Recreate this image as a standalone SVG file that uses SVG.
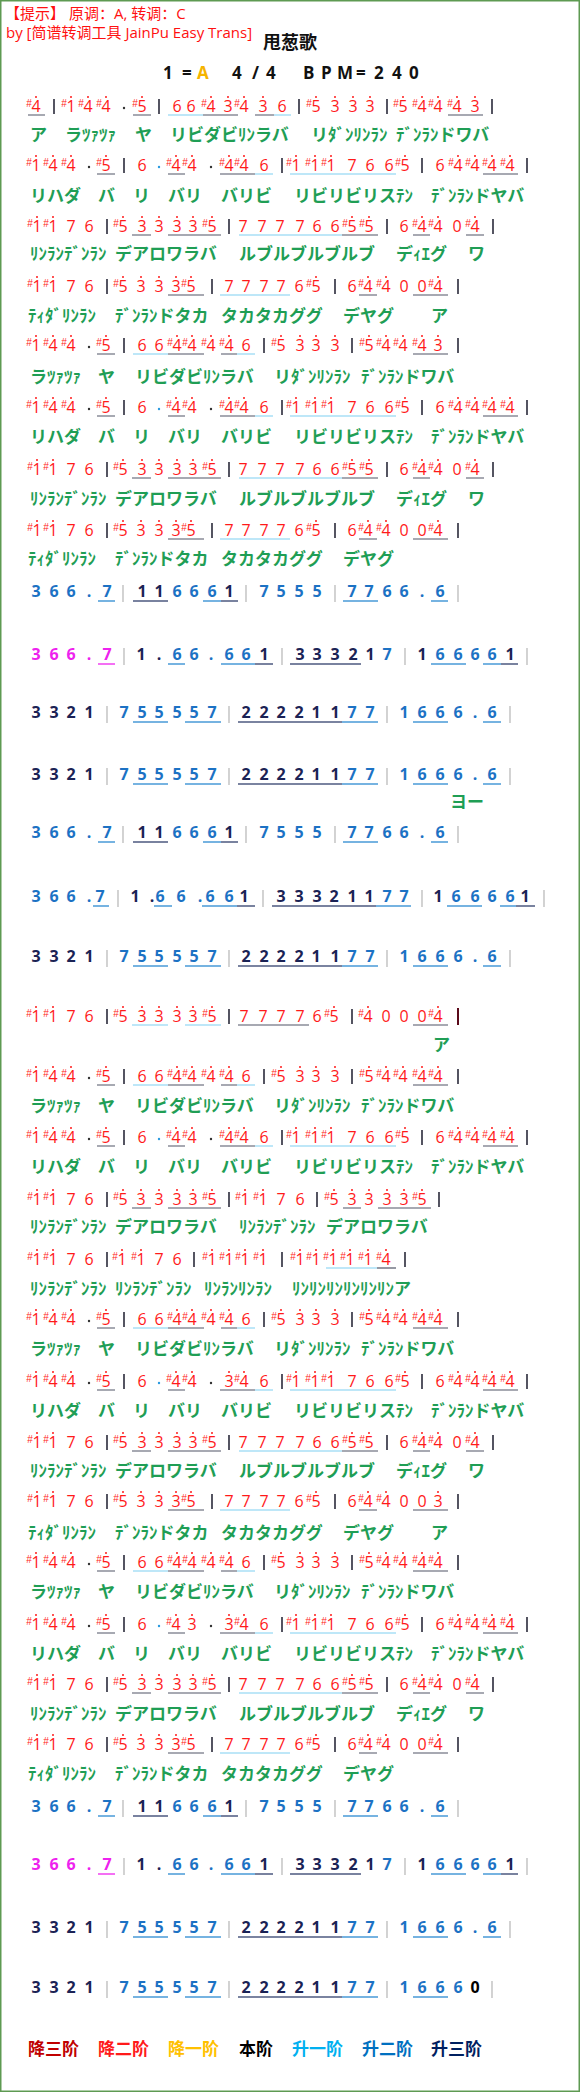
<svg xmlns="http://www.w3.org/2000/svg" width="580" height="2092" viewBox="0 0 580 2092">
<style>
.hd{font-family:"Open Sans","Noto Sans CJK SC",sans-serif;font-size:15px;fill:#ff1010}
.tt{font-family:"Noto Sans CJK SC",sans-serif;font-size:18px;font-weight:bold;fill:#111}
.key{font-family:"Open Sans","Liberation Sans",sans-serif;font-size:17px;font-weight:bold;fill:#111}
.r{font-family:"Open Sans","Liberation Sans",sans-serif;font-size:16px;fill:#ff1a1a;text-anchor:middle}
.s{font-family:"Liberation Sans",sans-serif;font-size:10px;fill:#ff1a1a;text-anchor:middle}
.dt{fill:none;stroke:#ff1a1a;stroke-width:2;stroke-linecap:round}
.ak{fill:none;stroke:#333;stroke-width:2.4;stroke-linecap:round}
.ab{fill:none;stroke:#2a9ae0;stroke-width:2.4;stroke-linecap:round}
.ud{fill:none;stroke:#505566;stroke-width:1.2}
.ub{fill:none;stroke:#7fd0f2;stroke-width:1.2}
.br{fill:none;stroke:#2b2b3b;stroke-width:1.6}
.bm{fill:none;stroke:#5a0a1a;stroke-width:2}
.b{font-family:"Open Sans","Liberation Sans",sans-serif;font-size:16px;font-weight:bold;text-anchor:middle}
.cb{fill:#1c72c4}
.cn{fill:#1b2355}
.cm{fill:#ee22ee}
.ck{fill:#000}
.gb{fill:none;stroke:#c8c8c8;stroke-width:1.6}
.lb{fill:none;stroke:#4a9ad8;stroke-width:1.3}
.ln{fill:none;stroke:#4e5a80;stroke-width:1.3}
.lm{fill:none;stroke:#ee22ee;stroke-width:1.3}
.ly{font-family:"Noto Sans CJK JP",sans-serif;font-size:17px;font-weight:bold;fill:#1f9e55}
.lg{font-family:"Noto Sans CJK SC",sans-serif;font-size:17px;font-weight:bold}
</style>
<defs>
<g id="rA">
<text class="r" x="36 71 88 106 142 177 191 211 228 244 263 282 316 335 353 370 403 422 438 457 475">414456643436533354443</text>
<text class="s" y="-5" x="29 64 81 99 135 204 237 309 396 415 431 450">############</text>
<path class="dt" d="M36-15h0M71-15h0M88-15h0M106-15h0M142-15h0M211-15h0M228-15h0M244-15h0M263-15h0M316-15h0M335-15h0M353-15h0M370-15h0M403-15h0M422-15h0M438-15h0M457-15h0M475-15h0"/>
<path class="ak" d="M124-4h0"/>
<path class="ud" d="M28 3H45M133 3H151M203 3H238M255 3H274M448 3H483"/>
<path class="ub" d="M168 3H203M274 3H291"/>
<path class="br" d="M54-13V2M159-13V2M299-13V2M387-13V2M492-13V2"/>
</g>
<g id="rC">
<text class="r" x="36 53 71 106 142 176 192 229 244 264 296 315 331 352 370 389 405 440 458 475 492 510">1445644446111766564444</text>
<text class="s" y="-5" x="29 46 64 99 169 185 222 237 289 308 324 398 451 468 485 503">################</text>
<path class="dt" d="M36-15h0M53-15h0M71-15h0M106-15h0M176-15h0M192-15h0M229-15h0M244-15h0M296-15h0M315-15h0M331-15h0M405-15h0M458-15h0M475-15h0M492-15h0M510-15h0"/>
<path class="ak" d="M89-4h0M211-4h0"/>
<path class="ab" d="M159-4h0"/>
<path class="ud" d="M97 3H115M168 3H185M220 3H255M483 3H518"/>
<path class="ub" d="M255 3H273M290 3H396"/>
<path class="br" d="M124-13V2M282-13V2M422-13V2M527-13V2"/>
</g>
<g id="rD">
<text class="r" x="36 53 71 106 142 176 192 229 244 264 296 315 331 352 370 389 405 440 458 475 492 510">1445644346111766564444</text>
<text class="s" y="-5" x="29 46 64 99 169 185 237 289 308 324 398 451 468 485 503">###############</text>
<path class="dt" d="M36-15h0M53-15h0M71-15h0M106-15h0M176-15h0M192-15h0M229-15h0M244-15h0M296-15h0M315-15h0M331-15h0M405-15h0M458-15h0M475-15h0M492-15h0M510-15h0"/>
<path class="ak" d="M89-4h0M211-4h0"/>
<path class="ab" d="M159-4h0"/>
<path class="ud" d="M97 3H115M168 3H185M220 3H255M483 3H518"/>
<path class="ub" d="M255 3H273M290 3H396"/>
<path class="br" d="M124-13V2M282-13V2M422-13V2M527-13V2"/>
</g>
<g id="rE">
<text class="r" x="36 53 71 106 142 176 192 229 244 264 296 315 331 352 370 389 405 440 458 475 492 510">1445643346111766564444</text>
<text class="s" y="-5" x="29 46 64 99 169 237 289 308 324 398 451 468 485 503">##############</text>
<path class="dt" d="M36-15h0M53-15h0M71-15h0M106-15h0M176-15h0M192-15h0M229-15h0M244-15h0M296-15h0M315-15h0M331-15h0M405-15h0M458-15h0M475-15h0M492-15h0M510-15h0"/>
<path class="ak" d="M89-4h0M211-4h0"/>
<path class="ab" d="M159-4h0"/>
<path class="ud" d="M97 3H115M168 3H185M220 3H255M483 3H518"/>
<path class="ub" d="M255 3H273M290 3H396"/>
<path class="br" d="M124-13V2M282-13V2M422-13V2M527-13V2"/>
</g>
<g id="rF">
<text class="r" x="37 53 71 89 123 142 159 177 193 212 243 262 280 300 317 335 352 369 404 422 438 457 475">11765333357777665564404</text>
<text class="s" y="-5" x="30 46 116 205 345 362 415 431 468">#########</text>
<path class="dt" d="M37-15h0M53-15h0M123-15h0M142-15h0M159-15h0M177-15h0M193-15h0M212-15h0M352-15h0M369-15h0M422-15h0M438-15h0M475-15h0"/>
<path class="ud" d="M132 3H151M168 3H221M342 3H378M413 3H430M466 3H484"/>
<path class="ub" d="M239 3H342"/>
<path class="br" d="M107-13V2M229-13V2M387-13V2M493-13V2"/>
</g>
<g id="rG">
<text class="r" x="37 53 71 89 123 141 159 176 191 229 246 264 281 299 316 352 368 386 404 422 438">117653335777765644004</text>
<text class="s" y="-5" x="30 46 116 184 309 361 379 431">########</text>
<path class="dt" d="M37-15h0M53-15h0M123-15h0M141-15h0M159-15h0M176-15h0M191-15h0M316-15h0M368-15h0M386-15h0M438-15h0"/>
<path class="ud" d="M168 3H204M359 3H377M413 3H448"/>
<path class="ub" d="M220 3H290"/>
<path class="br" d="M107-13V2M212-13V2M335-13V2M458-13V2"/>
</g>
<g id="rH">
<text class="r" x="37 53 71 89 123 141 159 176 191 229 246 264 281 299 316 352 368 386 404 422 438">117653335777765644003</text>
<text class="s" y="-5" x="30 46 116 184 309 361 379">#######</text>
<path class="dt" d="M37-15h0M53-15h0M123-15h0M141-15h0M159-15h0M176-15h0M191-15h0M316-15h0M368-15h0M386-15h0M438-15h0"/>
<path class="ud" d="M168 3H204M359 3H377M413 3H448"/>
<path class="ub" d="M220 3H290"/>
<path class="br" d="M107-13V2M212-13V2M335-13V2M458-13V2"/>
</g>
<g id="rI">
<text class="r" x="36 53 71 89 123 142 159 177 193 212 244 263 281 300 317 334 368 386 404 422 438">117653333577776540004</text>
<text class="s" y="-5" x="29 46 116 205 327 361 431">#######</text>
<path class="dt" d="M36-15h0M53-15h0M123-15h0M142-15h0M159-15h0M177-15h0M193-15h0M212-15h0M334-15h0M368-15h0M438-15h0"/>
<path class="ub" d="M132 3H168M185 3H221"/>
<path class="ud" d="M238 3H309M413 3H448"/>
<path class="br" d="M107-13V2M229-13V2M352-13V2"/>
<path class="bm" d="M458-14V3"/>
</g>
<g id="rJ">
<text class="r" x="36 53 71 106 142 159 177 192 211 229 246 281 300 316 335 369 386 403 422 438">14456644446533354444</text>
<text class="s" y="-5" x="29 46 64 99 170 185 204 222 274 362 379 396 415 431">##############</text>
<path class="dt" d="M36-15h0M53-15h0M71-15h0M106-15h0M177-15h0M192-15h0M211-15h0M229-15h0M281-15h0M300-15h0M316-15h0M335-15h0M369-15h0M386-15h0M403-15h0M422-15h0M438-15h0"/>
<path class="ak" d="M89-4h0"/>
<path class="ud" d="M97 3H115M168 3H204M221 3H237M413 3H448"/>
<path class="ub" d="M133 3H168M237 3H255"/>
<path class="br" d="M124-13V2M264-13V2M352-13V2M458-13V2"/>
</g>
<g id="rB">
<text class="r" x="36 53 71 106 142 159 177 192 211 229 246 281 300 316 335 369 386 403 422 438">14456644446533354443</text>
<text class="s" y="-5" x="29 46 64 99 170 185 204 222 274 362 379 396 415">#############</text>
<path class="dt" d="M36-15h0M53-15h0M71-15h0M106-15h0M177-15h0M192-15h0M211-15h0M229-15h0M281-15h0M300-15h0M316-15h0M335-15h0M369-15h0M386-15h0M403-15h0M422-15h0M438-15h0"/>
<path class="ak" d="M89-4h0"/>
<path class="ud" d="M97 3H115M168 3H204M221 3H237M413 3H448"/>
<path class="ub" d="M133 3H168M237 3H255"/>
<path class="br" d="M124-13V2M264-13V2M352-13V2M458-13V2"/>
</g>
<g id="rK">
<text class="r" x="37 53 71 89 123 141 159 177 193 212 245 263 281 300 334 352 369 387 404 422">11765333351176533335</text>
<text class="s" y="-5" x="30 46 116 205 238 256 327 415">########</text>
<path class="dt" d="M37-15h0M53-15h0M123-15h0M141-15h0M159-15h0M177-15h0M193-15h0M212-15h0M245-15h0M263-15h0M334-15h0M352-15h0M369-15h0M387-15h0M404-15h0M422-15h0"/>
<path class="ud" d="M132 3H151M168 3H221M343 3H361M378 3H431"/>
<path class="br" d="M107-13V2M229-13V2M317-13V2M439-13V2"/>
</g>
<g id="rL">
<text class="r" x="37 53 71 89 122 141 159 177 212 229 245 263 300 316 333 350 368 386">117611761111111114</text>
<text class="s" y="-5" x="30 46 115 134 205 222 238 256 293 309 326 343 361 379">##############</text>
<path class="dt" d="M37-15h0M53-15h0M122-15h0M141-15h0M212-15h0M229-15h0M245-15h0M263-15h0M300-15h0M316-15h0M333-15h0M350-15h0M368-15h0M386-15h0"/>
<path class="ub" d="M326 3H377"/>
<path class="ud" d="M377 3H396"/>
<path class="br" d="M107-13V2M194-13V2M282-13V2M405-13V2"/>
</g>
<g id="bP">
<text class="b cb" x="36 54 71 89 107 177 194 212 264 281 299 317 352 369 387 404 422 440">366.766675557766.6</text>
<text class="b cn" x="142 159 229">111</text>
<path class="lb" d="M98 4H115M203 4H221M343 4H378M431 4H448"/>
<path class="ln" d="M133 4H168M221 4H238"/>
<path class="gb" d="M123-12V5M246-12V5M335-12V5M458-12V5"/>
</g>
<g id="bQ">
<text class="b cm" x="36 54 71 89 107">366.7</text>
<text class="b cn" x="141 159 264 300 317 335 353 370 422 510">1.13332111</text>
<text class="b cb" x="177 194 211 229 246 387 440 458 475 492">66.6676666</text>
<path class="lm" d="M98 4H115"/>
<path class="lb" d="M168 4H185M221 4H255M431 4H466M483 4H501"/>
<path class="ln" d="M255 4H273M290 4H361M501 4H518"/>
<path class="gb" d="M124-12V5M282-12V5M405-12V5M527-12V5"/>
</g>
<g id="bR">
<text class="b cn" x="36 54 71 89 246 264 281 299 316 335">3321222211</text>
<text class="b cb" x="124 142 159 177 194 212 352 370 404 422 440 458 475 492">755557771666.6</text>
<path class="lb" d="M133 4H168M185 4H221M342 4H378M413 4H448M483 4H501"/>
<path class="ln" d="M238 4H342"/>
<path class="gb" d="M107-12V5M229-12V5M387-12V5M510-12V5"/>
</g>
<g id="bS">
<text class="b cb" x="36 54 71 89 100 160 181 200 210 229 387 404 456 475 492 510">366.766.66776666</text>
<text class="b cn" x="135 152 244 281 299 317 334 352 369 438 525">1.133321111</text>
<path class="lb" d="M93 4H109M154 4H172M202 4H237M376 4H411M447 4H482M500 4H516"/>
<path class="ln" d="M237 4H255M272 4H376M516 4H535"/>
<path class="gb" d="M118-12V5M263-12V5M422-12V5M544-12V5"/>
</g>
<g id="la"><text class="ly"><tspan x="30">ア</tspan><tspan x="65">ラﾂｧﾂｧ</tspan><tspan x="135">ヤ</tspan><tspan x="170">リビダビﾘﾝラバ</tspan><tspan x="311">リﾀﾞﾝﾘﾝﾗﾝ</tspan><tspan x="396">ﾃﾞﾝﾗﾝドワバ</tspan></text></g>
<g id="lb2"><text class="ly"><tspan x="30">リハダ</tspan><tspan x="98">バ</tspan><tspan x="133">リ</tspan><tspan x="168">バリ</tspan><tspan x="221">バリビ</tspan><tspan x="294">リビリビリスﾃﾝ</tspan><tspan x="431">ﾃﾞﾝﾗﾝドヤバ</tspan></text></g>
<g id="lc"><text class="ly"><tspan x="30">ﾘﾝﾗﾝﾃﾞﾝﾗﾝ</tspan><tspan x="115">デアロワラバ</tspan><tspan x="239">ルブルブルブルブ</tspan><tspan x="396">デｨｴグ</tspan><tspan x="468">ワ</tspan></text></g>
<g id="ld"><text class="ly"><tspan x="28">ﾃｨﾀﾞﾘﾝﾗﾝ</tspan><tspan x="115">ﾃﾞﾝﾗﾝドタカ</tspan><tspan x="221">タカタカググ</tspan><tspan x="343">デヤグ</tspan></text></g>
<g id="le"><text class="ly"><tspan x="30">ラﾂｧﾂｧ</tspan><tspan x="98">ヤ</tspan><tspan x="135">リビダビﾘﾝラバ</tspan><tspan x="274">リﾀﾞﾝﾘﾝﾗﾝ</tspan><tspan x="361">ﾃﾞﾝﾗﾝドワバ</tspan></text></g>
</defs>
<rect x="0" y="0" width="580" height="2092" fill="#fff"/>
<rect x="0.75" y="0.75" width="578.5" height="2090.5" fill="none" stroke="#5e9a52" stroke-width="1.5"/>
<g id="header">
<text class="hd" x="5" y="19">【提示】 原调：A, 转调：C</text>
<text class="hd" x="6" y="38">by [简谱转调工具 JainPu Easy Trans]</text>
<text class="tt" x="290" y="49" text-anchor="middle">甩葱歌</text>
<text class="key" y="79"><tspan x="163">1</tspan><tspan x="182">=</tspan><tspan x="197" style="fill:#f5b400">A</tspan><tspan x="232 252 266">4/4</tspan><tspan x="303 321 337 356 374 392 409">BPM=240</tspan></text>
</g>
<g id="score">
<use href="#rA" y="112"/>
<use href="#la" y="141"/>
<use href="#rC" y="171"/>
<use href="#lb2" y="202"/>
<use href="#rF" y="232"/>
<use href="#lc" y="260"/>
<use href="#rG" y="292"/>
<use href="#ld" y="322"/>
<text class="ly" x="431" y="322">ア</text>
<use href="#rB" y="351"/>
<use href="#le" y="383"/>
<use href="#rC" y="413"/>
<use href="#lb2" y="443"/>
<use href="#rF" y="475"/>
<use href="#lc" y="505"/>
<use href="#rG" y="536"/>
<use href="#ld" y="565"/>
<use href="#bP" y="597"/>
<use href="#bQ" y="660"/>
<use href="#bR" y="718"/>
<use href="#bR" y="780"/>
<text class="ly" x="450" y="808">ヨー</text>
<use href="#bP" y="838"/>
<use href="#bS" y="902"/>
<use href="#bR" y="962"/>
<use href="#rI" y="1022"/>
<text class="ly" x="433" y="1051">ア</text>
<use href="#rJ" y="1082"/>
<use href="#le" y="1112"/>
<use href="#rC" y="1143"/>
<use href="#lb2" y="1173"/>
<use href="#rK" y="1205"/>
<text class="ly"><tspan x="30" y="1233">ﾘﾝﾗﾝﾃﾞﾝﾗﾝ</tspan><tspan x="115" y="1233">デアロワラバ</tspan><tspan x="239" y="1233">ﾘﾝﾗﾝﾃﾞﾝﾗﾝ</tspan><tspan x="326" y="1233">デアロワラバ</tspan></text>
<use href="#rL" y="1265"/>
<text class="ly"><tspan x="30" y="1295">ﾘﾝﾗﾝﾃﾞﾝﾗﾝ</tspan><tspan x="115" y="1295">ﾘﾝﾗﾝﾃﾞﾝﾗﾝ</tspan><tspan x="204" y="1295">ﾘﾝﾗﾝﾘﾝﾗﾝ</tspan><tspan x="292" y="1295">ﾘﾝﾘﾝﾘﾝﾘﾝﾘﾝﾘﾝア</tspan></text>
<use href="#rJ" y="1325"/>
<use href="#le" y="1355"/>
<use href="#rD" y="1387"/>
<use href="#lb2" y="1417"/>
<use href="#rF" y="1448"/>
<use href="#lc" y="1477"/>
<use href="#rH" y="1507"/>
<use href="#ld" y="1539"/>
<text class="ly" x="431" y="1539">ア</text>
<use href="#rJ" y="1568"/>
<use href="#le" y="1598"/>
<use href="#rE" y="1630"/>
<use href="#lb2" y="1660"/>
<use href="#rF" y="1690"/>
<use href="#lc" y="1720"/>
<use href="#rG" y="1750"/>
<use href="#ld" y="1780"/>
<use href="#bP" y="1812"/>
<use href="#bQ" y="1870"/>
<use href="#bR" y="1933"/>
<g transform="translate(0,1993)">
<text class="b cn" x="36 54 71 89 246 264 281 299 316 335">3321222211</text>
<text class="b cb" x="124 142 159 177 194 212 352 370 404 422 440 458">755557771666</text>
<text class="b ck" x="475">0</text>
<path class="lb" d="M133 4H168M185 4H221M342 4H378M413 4H448"/>
<path class="ln" d="M238 4H342"/>
<path class="gb" d="M107-12V5M229-12V5M387-12V5M492-12V5"/>
</g>
</g>
<g id="legend">
<text class="lg" x="28" y="2055" fill="#c00000">降三阶</text>
<text class="lg" x="98" y="2055" fill="#ff1a1a">降二阶</text>
<text class="lg" x="168" y="2055" fill="#ffc000">降一阶</text>
<text class="lg" x="239" y="2055" fill="#000">本阶</text>
<text class="lg" x="292" y="2055" fill="#00b0f0">升一阶</text>
<text class="lg" x="362" y="2055" fill="#0070c0">升二阶</text>
<text class="lg" x="431" y="2055" fill="#002060">升三阶</text>
</g>
</svg>
